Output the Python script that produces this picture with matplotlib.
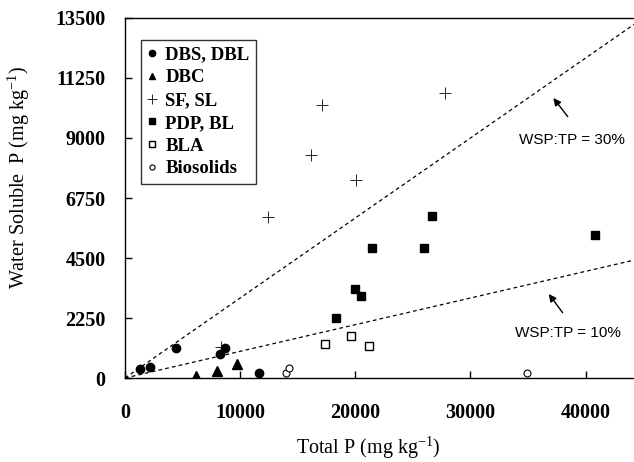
import matplotlib.pyplot as plt
import numpy as np

plt.rcParams['mathtext.fontset'] = 'custom'
plt.rcParams['mathtext.rm'] = 'Liberation Serif'
plt.rcParams['mathtext.default'] = 'rm'

# data (Total P, Water soluble P), mg/kg
dbs_x = [1275, 2175, 4400, 8250, 8700, 11600]
dbs_y = [340, 420, 1140, 910, 1140, 200]
dbc_x = [6150, 7950, 9700]
dbc_y = [90, 260, 510]
sf_x = [8300, 12400, 16150, 17150, 20050, 27800]
sf_y = [1170, 6050, 8350, 10250, 7420, 10680]
pdp_x = [18350, 19950, 20500, 21450, 25950, 26700, 40800]
pdp_y = [2260, 3320, 3080, 4880, 4870, 6080, 5360]
bla_x = [17350, 19650, 21150]
bla_y = [1270, 1570, 1210]
bio_x = [13950, 14250, 34900]
bio_y = [200, 390, 180]

ratios = [0.30, 0.10]
ratio_labels = ['WSP:TP = 30%', 'WSP:TP = 10%']

xticks = np.arange(0, 40001, 10000)
yticks = np.arange(0, 13501, 2250)

serif = 'Liberation Serif'

fig = plt.figure(figsize=(6.34, 4.62), dpi=100)
ax = fig.add_axes([125/634, 84/462, 509/634, 360/462])

ax.plot(dbs_x, dbs_y, 'o', color='black', ms=6, label='DBS, DBL')
ax.plot(dbc_x, dbc_y, '^', color='black', ms=6.5, label='DBC')
ax.plot(sf_x, sf_y, '+', color='black', ms=9, mew=0.6, label='SF, SL')
ax.plot(pdp_x, pdp_y, 's', color='black', ms=5.5, label='PDP, BL')
ax.plot(bla_x, bla_y, 's', mfc='white', mec='black', mew=1, ms=5.5, label='BLA')
ax.plot(bio_x, bio_y, 'o', mfc='white', mec='black', mew=0.8, ms=5, label='Biosolids')

# reference lines
xl = np.array([0, 44200])
for r in ratios:
    ax.plot(xl, xl * r, color='black', lw=0.9, dashes=(3, 2.5))

# arrows + labels
arr = dict(arrowstyle='-|>', color='black', lw=1, mutation_scale=11, shrinkA=0, shrinkB=0)
ax.annotate('', xy=(37200, 10500), xytext=(38450, 9800), arrowprops=arr)
ax.text(38800, 8920, ratio_labels[0], ha='center', va='center', fontsize=11, family='Liberation Sans')
ax.annotate('', xy=(36800, 3150), xytext=(38000, 2450), arrowprops=arr)
ax.text(38450, 1700, ratio_labels[1], ha='center', va='center', fontsize=11, family='Liberation Sans')

ax.set_xlim(0, 44200)
ax.set_ylim(0, 13500)
ax.set_xticks(xticks)
ax.set_yticks(yticks)
ax.set_xticklabels([str(v) for v in xticks], family=serif, fontweight='bold', fontsize=14.5)
ax.set_yticklabels([str(v) for v in yticks], family=serif, fontweight='bold', fontsize=14.5)
ax.tick_params(direction='in', length=5, width=1)
ax.tick_params(axis='x', pad=18)
ax.tick_params(axis='y', pad=14)
ax.spines['right'].set_visible(False)
for s in ['left', 'bottom', 'top']:
    ax.spines[s].set_linewidth(1)

fig.text(368/634, 1 - 448/462, r'Total P (mg kg$^{-1}$)', family=serif, fontsize=14.5,
         ha='center', va='center')
fig.text(19/634, 1 - 178/462, r'Water Soluble  P (mg kg$^{-1}$)', family=serif, fontsize=14.5,
         ha='center', va='center', rotation=90)

leg = ax.legend(loc='upper left', bbox_to_anchor=(16/509, (378-40)/360), borderaxespad=0,
                fancybox=False, edgecolor='black', markerscale=0.75, handlelength=0.5,
                handletextpad=0.45, labelspacing=0.3, borderpad=0.35,
                prop={'family': serif, 'weight': 'bold', 'size': 13.5})
leg.get_frame().set_linewidth(1)

fig.savefig('out.png', dpi=100)
